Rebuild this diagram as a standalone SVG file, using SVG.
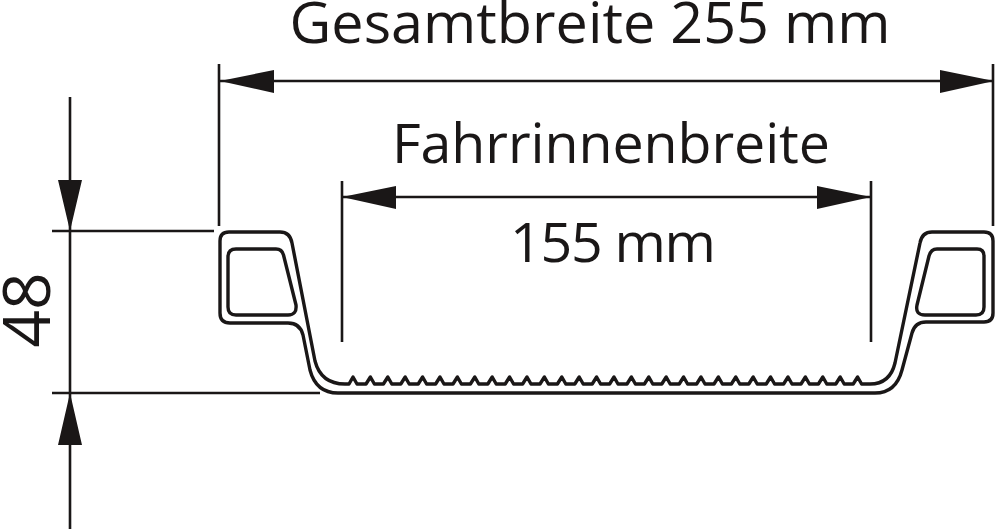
<svg xmlns="http://www.w3.org/2000/svg" width="1000" height="529" viewBox="0 0 1000 529">
<defs>
<style>
.d{fill:none;stroke:#1a1717;stroke-width:2.6}
.p{fill:none;stroke:#1a1717;stroke-width:3.4;stroke-linejoin:round}
.a{fill:#1a1717;stroke:none}
text{font-family:"Open Sans","Liberation Sans",sans-serif;fill:#1a1717}
</style>
</defs>
<rect width="1000" height="529" fill="#fff"/>
<g id="connectors">
<path class="d" d="M219 64V226M220 81H993M993 64V226M342 181V342M342 197H871M871 181V342M52 231H214M70 97V529M52 393H320"/>
<path class="a" d="M220 81L274 70V93ZM994 81L940 70V93ZM342 197L396 186V209ZM871 197L817 186V209ZM70 231L58 180H82ZM70 393L58 445H82Z"/>
</g>
<g id="profile">
<path class="p" d="M229 232H280Q290 232 292 243L315 361Q321 384 345 384
L349 384L353 377L357 384H366L370.400 377L374.400 384H383.400L387.800 377L391.800 384H400.800L405.200 377L409.200 384H418.200L422.600 377L426.600 384H435.600L440 377L444 384H453L457.400 377L461.400 384H470.400L474.800 377L478.800 384H487.800L492.200 377L496.200 384H505.200L509.600 377L513.600 384H522.600L527 377L531 384H540L544.400 377L548.400 384H557.400L561.800 377L565.800 384H574.800L579.200 377L583.200 384H592.200L596.600 377L600.600 384H609.600L614 377L618 384H627L631.400 377L635.400 384H644.400L648.800 377L652.800 384H661.800L666.200 377L670.200 384H679.200L683.600 377L687.600 384H696.600L701 377L705 384H714L718.400 377L722.400 384H731.400L735.800 377L739.800 384H748.800L753.200 377L757.200 384H766.200L770.600 377L774.600 384H783.600L788 377L792 384H801L805.400 377L809.400 384H818.400L822.800 377L826.800 384H835.800L840.200 377L844.200 384H853.200L857.600 377L861.600 384H870
Q890 384 895 363L920 243Q922 232 932 232H984Q993 232 993 241V313Q993 322 984 322H926Q915 322 912 333L902 370Q896 393 875 393H338Q316 393 310 370L303 335Q300 323 288 323H230Q220 323 220 313V241Q220 232 229 232Z"/>
<path class="p" d="M236 249H276Q282 249 283.500 255L296 305Q297 315 288 315H236Q228 315 228 307V257Q228 249 236 249Z"/>
<path class="p" d="M937 249H977Q984 249 984 256V307Q984 315 976 315H925Q915 315 917 305L929 256Q931 249 937 249Z"/>
</g>
<g id="label-gesamt"><text x="590" y="43" text-anchor="middle" font-size="57.500" textLength="601">Gesamtbreite 255 mm</text></g>
<g id="label-fahr"><text x="611" y="163" text-anchor="middle" font-size="55.500" textLength="438">Fahrrinnenbreite</text></g>
<g id="label-155"><text x="613" y="262" text-anchor="middle" font-size="55.500" textLength="206">155 mm</text></g>
<g id="label-48"><text transform="translate(50 310) rotate(-90)" text-anchor="middle" font-size="66">48</text></g>
</svg>
